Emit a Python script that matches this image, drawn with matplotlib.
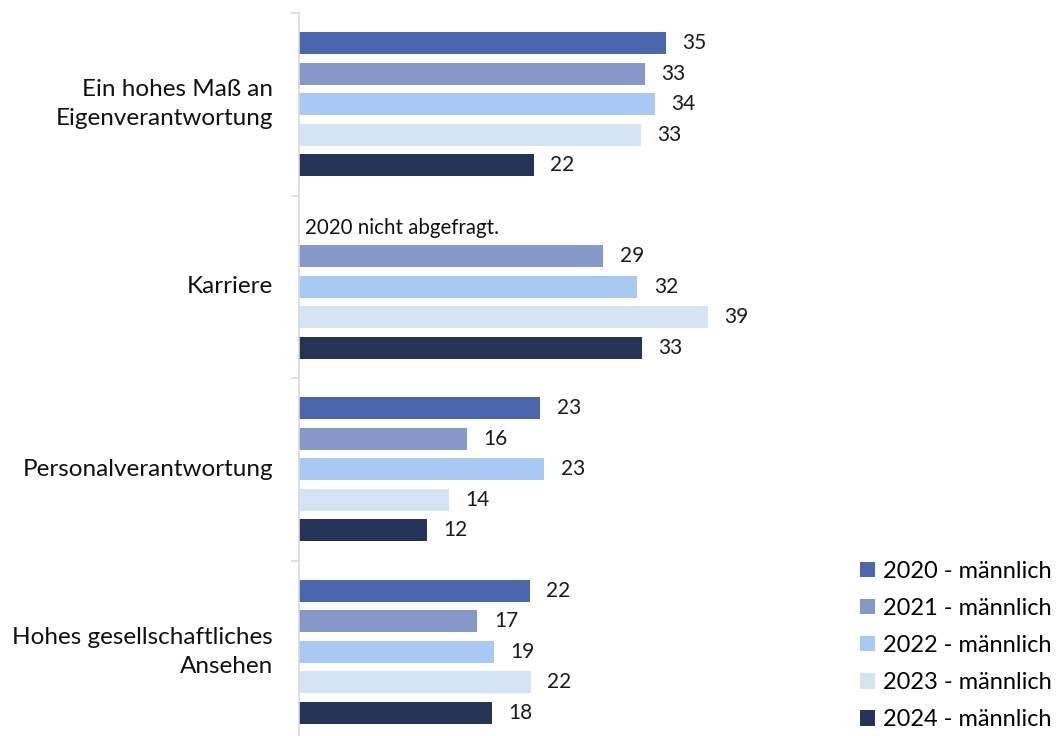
import matplotlib
matplotlib.use("Agg")
import matplotlib.pyplot as plt
from matplotlib.patches import Patch
import numpy as np

categories = ["Ein hohes Maß an\nEigenverantwortung", "Karriere",
              "Personalverantwortung", "Hohes gesellschaftliches\nAnsehen"]
series = ["2020 - männlich", "2021 - männlich", "2022 - männlich",
          "2023 - männlich", "2024 - männlich"]
# values in percent (bars drawn at read length, labels show the printed integers)
values_2020 = [35.0, None, 23.0, 22.0]
values_2021 = [33.0, 29.0, 16.0, 17.0]
values_2022 = [33.9, 32.25, 23.4, 18.6]
values_2023 = [32.6, 39.0, 14.3, 22.1]
values_2024 = [22.4, 32.7, 12.2, 18.4]
values = [values_2020, values_2021, values_2022, values_2023, values_2024]
labels_2020 = ["35", None, "23", "22"]
labels_2021 = ["33", "29", "16", "17"]
labels_2022 = ["34", "32", "23", "19"]
labels_2023 = ["33", "39", "14", "22"]
labels_2024 = ["22", "33", "12", "18"]
labels = [labels_2020, labels_2021, labels_2022, labels_2023, labels_2024]
colors = ["#4A67AD", "#8599C8", "#A9C9F5", "#D5E4F5", "#253357"]
note = "2020 nicht abgefragt."

W, H = 1059, 736
fig = plt.figure(figsize=(W / 100, H / 100), dpi=100)
plt.rcParams['font.family'] = ['Lato', 'DejaVu Sans']

ax_left, ax_right = 299, 820
ax_top, ax_bot = 13, 743
ax = fig.add_axes([ax_left / W, (H - ax_bot) / H, (ax_right - ax_left) / W, (ax_bot - ax_top) / H])
ppu = (708 - 299) / 39.0
ax.set_xlim(0, (ax_right - ax_left) / ppu)
n = len(categories)
ax.set_ylim(n, 0)

slot = 1.0 / 6.0
bar_h = 22 / 182.5
for j, s in enumerate(series):
    for i, v in enumerate(values[j]):
        y = i + (j + 0.5) * slot + (1.0 - 5 * slot) / 2
        if v is None:
            continue
        ax.barh(y, v, height=bar_h, color=colors[j], edgecolor='none')
        ax.text(v + 16.5 / ppu, y, labels[j][i], va='center', ha='left', fontsize=15,
                color='#1a1a1a', fontweight='normal')

ax.text(0.6, 1 + (0.5 * slot) + (1.0 - 5 * slot) / 2 + 0.012, note, va='center', ha='left',
        fontsize=14.8, color='#111111')

for sp in ['top', 'right', 'bottom']:
    ax.spines[sp].set_visible(False)
ax.spines['left'].set_color('#D9D9D9')
ax.spines['left'].set_linewidth(1.2)
ax.set_xticks([])
ax.set_yticks(np.arange(n + 1), minor=False)
ax.set_yticklabels([])
ax.tick_params(axis='y', length=6, color='#D9D9D9', width=1.2)
for i, c in enumerate(categories):
    ax.text(-26 / ppu, i + 0.5, c, ha='right', va='center', fontsize=17.5,
            color='#111111', linespacing=1.45)

handles = [Patch(facecolor=c, edgecolor='none') for c in colors]
leg = fig.legend(handles, series, loc='upper left', bbox_to_anchor=(860 / W, 1 - 561 / H),
                 frameon=False, fontsize=17, handlelength=0.62, handleheight=0.62,
                 handletextpad=0.35, labelspacing=0.68, borderaxespad=0, borderpad=0)

fig.savefig("out.png", dpi=100)
